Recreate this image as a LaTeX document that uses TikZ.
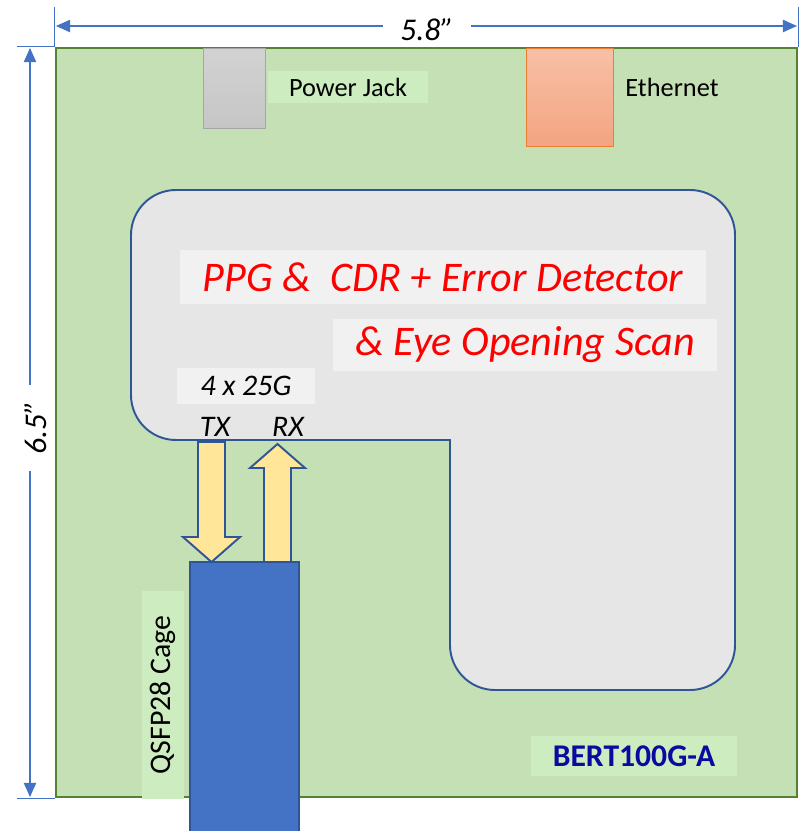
\documentclass[tikz,border=0pt]{standalone}
\usepackage{fontspec}
\setmainfont{Carlito}
\usetikzlibrary{arrows.meta}
\definecolor{boardgreen}{HTML}{C5E0B4}
\definecolor{boardedge}{HTML}{548235}
\definecolor{labelgreen}{HTML}{CDEDC0}
\definecolor{dimblue}{HTML}{4472C4}
\definecolor{edgeblue}{HTML}{2F5597}
\definecolor{chipgray}{HTML}{E7E6E6}
\definecolor{textbg}{HTML}{F1F1F1}
\definecolor{arrowyellow}{HTML}{FFE699}
\definecolor{ethtop}{HTML}{F8C0A6}
\definecolor{ethbot}{HTML}{F4A481}
\definecolor{ethedge}{HTML}{ED7D31}
\definecolor{bertblue}{HTML}{0A0AA0}

\begin{document}
\begin{tikzpicture}[x=0.02cm,y=-0.02cm,
    dimline/.style={dimblue,line width=0.6pt},
    dimarrow/.style={dimline,{Triangle[length=8pt,width=7pt]}-{Triangle[length=8pt,width=7pt]}},
    blockarrow/.style={fill=arrowyellow,draw=edgeblue,line width=1.1pt},
    redtext/.style={text=red,font=\fontsize{24}{28}\selectfont\itshape,inner sep=0pt},
    smalltext/.style={font=\fontsize{17}{20}\selectfont\itshape,inner sep=0pt}]
    \useasboundingbox (0,0) rectangle (809,831);
    % board
    \node[draw=boardedge,fill=boardgreen,line width=1.4pt,inner sep=0pt,
        minimum width=14.82cm,minimum height=14.98cm] (board) at (426.5,422.5) {};
    % width dimension
    \coordinate (wl) at (56,26);
    \coordinate (wr) at (797,26);
    \draw[dimline] (board.north west) -- ++(0,-40);
    \draw[dimline] (board.north east) -- ++(0,-40);
    \draw[dimarrow] (wl) -- (wr);
    \node[fill=white,inner sep=2pt,minimum width=1.76cm,font=\fontsize{18}{20}\selectfont\itshape] (wlabel) at (427,30) {5.8”};
    % height dimension
    \coordinate (ht) at (30,48);
    \coordinate (hb) at (30,797);
    \draw[dimline] (board.north west) -- ++(-38,0);
    \draw[dimline] (board.south west) -- ++(-38,0);
    \draw[dimarrow] (ht) -- (hb);
    \node[fill=white,inner sep=2pt,rotate=90,minimum width=1.74cm,font=\fontsize{18}{20}\selectfont\itshape] (hlabel) at (36,428) {6.5”};
    % power jack
    \node[draw=gray!70,top color=gray!35,bottom color=gray!45,inner sep=0pt,
        minimum width=1.24cm,minimum height=1.6cm] (jack) at (234,88) {};
    \node[fill=labelgreen,inner sep=0pt,minimum width=3.2cm,minimum height=0.66cm,
        font=\fontsize{15}{18}\selectfont] (jacklabel) at (348,87) {Power Jack};
    % ethernet
    \node[draw=ethedge,top color=ethtop,bottom color=ethbot,inner sep=0pt,
        minimum width=1.74cm,minimum height=1.96cm] (eth) at (569.5,97) {};
    \node[font=\fontsize{15}{18}\selectfont,inner sep=0pt] (ethlabel) at (672,87) {Ethernet};
    % chip area
    \filldraw[fill=chipgray,draw=edgeblue,line width=1.1pt,rounded corners=0.9cm,line cap=rect]
        (450,440) -- (450,690) -- (735,690) -- (735,190) -- (131,190) -- (131,440) -- (450,440);
    \node[fill=textbg,minimum width=10.52cm,minimum height=1.08cm,redtext] (ppg) at (443,277) {PPG \&\ \ CDR + Error Detector};
    \node[fill=textbg,minimum width=7.68cm,minimum height=1.06cm,redtext] (eye) at (525,345) {\& Eye Opening Scan};
    \node[fill=textbg,minimum width=2.76cm,minimum height=0.74cm,smalltext] (rate) at (246,386) {4 x 25G};
    \node[smalltext] (tx) at (215,427) {TX};
    \node[smalltext] (rx) at (288,427) {RX};
    % tx / rx arrows
    \filldraw[blockarrow] (198,442) -- (225,442) -- (225,537) -- (240,537) -- (211.5,562)
        -- (183,537) -- (198,537) -- cycle;
    \filldraw[blockarrow] (264,562) -- (291,562) -- (291,468) -- (305,468) -- (277.5,444)
        -- (250,468) -- (264,468) -- cycle;
    % qsfp cage
    \filldraw[fill=dimblue,draw=edgeblue,line width=1.1pt] (190,562) rectangle (299,832);
    \node[fill=labelgreen,rotate=90,inner sep=0pt,minimum width=4.16cm,minimum height=0.84cm,
        font=\fontsize{17}{20}\selectfont] (qsfp) at (163,695) {QSFP28 Cage};
    % board name
    \node[fill=labelgreen,inner sep=0pt,minimum width=4.12cm,minimum height=0.8cm,
        font=\fontsize{18}{20}\selectfont\bfseries,text=bertblue] (bert) at (634,756) {BERT100G-A};
\end{tikzpicture}
\end{document}
